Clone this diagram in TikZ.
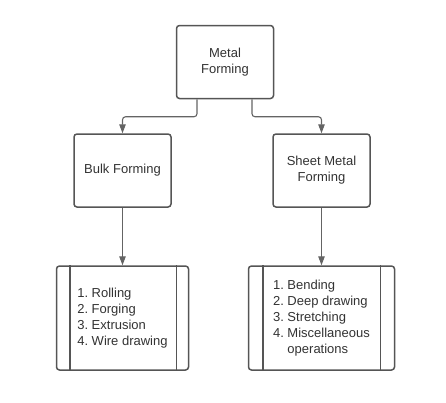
\documentclass[tikz,border=0pt]{standalone}
\usepackage{fontspec}
\setmainfont{Liberation Sans}
\usetikzlibrary{arrows.meta, positioning}
\definecolor{lineGray}{RGB}{85,85,85}
\definecolor{arrowGray}{RGB}{100,100,100}
\definecolor{textGray}{RGB}{51,51,51}
\tikzstyle{block} = [draw=lineGray, line width=1.5pt, fill=white, rectangle, rounded corners=3pt, minimum width=97pt, minimum height=73pt, align=center, text=textGray, font=\fontsize{13}{16}\selectfont]
\tikzstyle{listblock} = [block, minimum height=104pt]
\tikzstyle{rail} = [draw=lineGray, line width=1.5pt]
\tikzstyle{conn} = [draw=arrowGray, line width=1.1pt, -{Triangle[length=9pt,width=6.5pt]}, rounded corners=3pt]

\begin{document}
\begin{tikzpicture}[x=1pt, y=-1pt]
        \useasboundingbox (0,0) rectangle (446,402);
        % We start by placing the blocks
        \node [block] (metal) at (225,62) {Metal\\Forming};
        \node [block] (bulk) at (122.5,170.5) {Bulk Forming};
        \node [block] (sheet) at (321.5,170.5) {Sheet Metal\\Forming};
        \node [listblock, minimum width=132pt] (bulkList) at (122.5,318) {\begin{tabular}{@{}l@{\hspace{3.5pt}}l@{}}
            1.&Rolling\\
            2.&Forging\\
            3.&Extrusion\\
            4.&Wire drawing
        \end{tabular}};
        \node [listblock, minimum width=146pt] (sheetList) at (321.5,318) {\begin{tabular}{@{}l@{\hspace{3.5pt}}l@{}}
            1.&Bending\\
            2.&Deep drawing\\
            3.&Stretching\\
            4.&Miscellaneous\\
              &operations
        \end{tabular}};

        % the rails on both sides of the lists
        \draw [rail] ([xshift=14pt]bulkList.north west) -- ([xshift=14pt]bulkList.south west);
        \draw [rail] ([xshift=-13pt]bulkList.north east) -- ([xshift=-13pt]bulkList.south east);
        \draw [rail] ([xshift=15pt]sheetList.north west) -- ([xshift=15pt]sheetList.south west);
        \draw [rail] ([xshift=-15pt]sheetList.north east) -- ([xshift=-15pt]sheetList.south east);

        % Once the nodes are placed, connecting them is easy.
        \draw [conn] ([xshift=-28pt]metal.south) -- ++(0,17.5) -| (bulk);
        \draw [conn] ([xshift=27pt]metal.south) -- ++(0,17.5) -| (sheet);
        \draw [conn] (bulk) -- (bulkList);
        \draw [conn] (sheet) -- (sheetList);
    \end{tikzpicture}
\end{document}
